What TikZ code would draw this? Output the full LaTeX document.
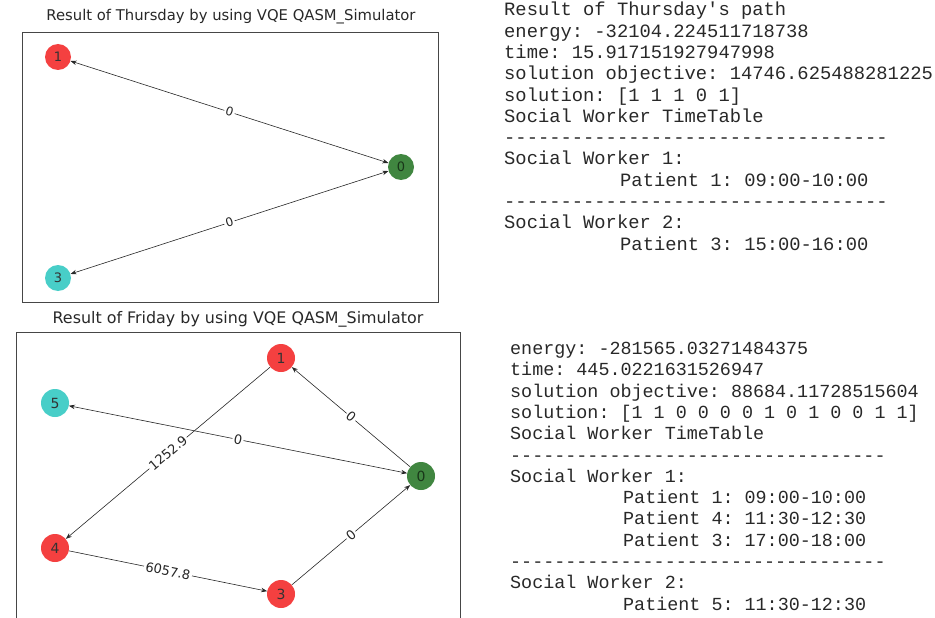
\documentclass[tikz,border=0pt]{standalone}
\usepackage{fontspec}
\setmainfont{DejaVu Sans}
\setmonofont{Liberation Mono}
\usetikzlibrary{arrows.meta, positioning}
\definecolor{colred}{RGB}{244,64,64}
\definecolor{colcyan}{RGB}{72,206,200}
\definecolor{colgreen}{RGB}{64,134,64}
\definecolor{colframe}{RGB}{70,70,70}
\definecolor{coltext}{RGB}{40,40,40}

\begin{document}
\begin{tikzpicture}[
  x=1pt, y=-1pt,
  vtx/.style={circle, minimum size=26pt, inner sep=0pt,
              font=\fontsize{13}{13}\selectfont, text=black!80},
  bigvtx/.style={minimum size=28pt, font=\fontsize{14}{14}\selectfont},
  rednd/.style={vtx, fill=colred},
  cyannd/.style={vtx, fill=colcyan},
  greennd/.style={vtx, fill=colgreen, text=black!60!colgreen},
  elbl/.style={fill=white, inner sep=1.5pt, sloped,
               font=\fontsize{12}{12}\selectfont, text=black!85},
  bigelbl/.style={elbl, font=\fontsize{13}{13}\selectfont},
  arr/.style={-{Stealth[length=6pt,width=4.5pt]}, semithick, black!85},
  barr/.style={{Stealth[length=6pt,width=4.5pt]}-{Stealth[length=6pt,width=4.5pt]},
               semithick, black!85},
  ttl/.style={text=coltext},
  log/.style={anchor=north west, align=left, inner sep=0pt, text=coltext}
]
\useasboundingbox (0,0) rectangle (935,618);

% Thursday panel
\node[ttl, font=\fontsize{14.8}{15}\selectfont] (thtitle) at (231,17)
  {Result of Thursday by using VQE QASM\_Simulator};
\draw[colframe, thin] (22,32) rectangle (438,302);

\node[rednd]   (th1) at (58,57)   {1};
\node[greennd] (th0) at (401,167) {0};
\node[cyannd]  (th3) at (58,278)  {3};

\draw[barr] (th0) -- node[elbl]{0} (th1);
\draw[barr] (th3) -- node[elbl]{0} (th0);

% Friday panel
\node[ttl, font=\fontsize{15.9}{16}\selectfont] (frtitle) at (238,319)
  {Result of Friday by using VQE QASM\_Simulator};
\draw[colframe, thin] (16,620) |- (460,332) -- (460,620);

\node[rednd, bigvtx]   (fr1) at (281,358) {1};
\node[cyannd, bigvtx]  (fr5) at (55,403)  {5};
\node[greennd, bigvtx] (fr0) at (421,476) {0};
\node[rednd, bigvtx]   (fr4) at (55,548)  {4};
\node[rednd, bigvtx]   (fr3) at (281,594) {3};

\draw[arr]  (fr1) -- node[bigelbl]{1252.9} (fr4);
\draw[barr] (fr0) -- node[bigelbl]{0} (fr5);
\draw[arr]  (fr0) -- node[bigelbl]{0} (fr1);
\draw[arr]  (fr4) -- node[bigelbl]{6057.8} (fr3);
\draw[arr]  (fr3) -- node[bigelbl]{0} (fr0);

% Thursday output
\node[log, font=\ttfamily\fontsize{18.8}{21.3}\selectfont] (thlog) at (504,2)
  {Result of Thursday's path\\
   energy: -32104.224511718738\\
   time: 15.917151927947998\\
   solution objective: 14746.625488281225\\
   solution: [1 1 1 0 1]\\
   Social Worker TimeTable\\
   ----------------------------------\\
   Social Worker 1:\\
   \hspace*{116pt}Patient 1: 09:00-10:00\\
   ----------------------------------\\
   Social Worker 2:\\
   \hspace*{116pt}Patient 3: 15:00-16:00};

% Friday output
\node[log, font=\ttfamily\fontsize{18.4}{21.3}\selectfont] (frlog) at (510,342)
  {energy: -281565.03271484375\\
   time: 445.0221631526947\\
   solution objective: 88684.11728515604\\
   solution: [1 1 0 0 0 0 1 0 1 0 0 1 1]\\
   Social Worker TimeTable\\
   ----------------------------------\\
   Social Worker 1:\\
   \hspace*{113pt}Patient 1: 09:00-10:00\\
   \hspace*{113pt}Patient 4: 11:30-12:30\\
   \hspace*{113pt}Patient 3: 17:00-18:00\\
   ----------------------------------\\
   Social Worker 2:\\
   \hspace*{113pt}Patient 5: 11:30-12:30};
\end{tikzpicture}
\end{document}
